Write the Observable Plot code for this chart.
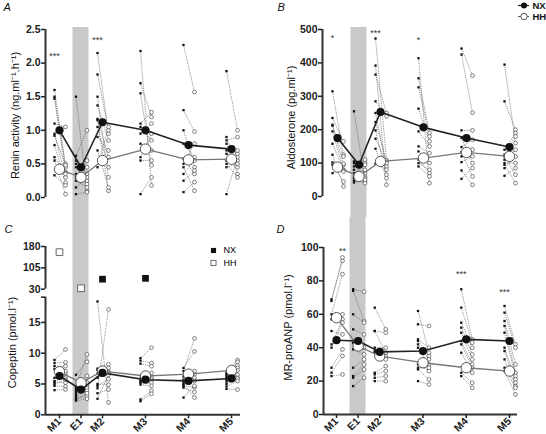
<!DOCTYPE html>
<html><head><meta charset="utf-8">
<script src="https://cdn.jsdelivr.net/npm/d3@7"></script>
<script src="https://cdn.jsdelivr.net/npm/@observablehq/plot@0.6"></script>
<style>
body{margin:0;background:#fff;}
#wrap{position:relative;width:546px;height:434px;overflow:hidden;background:#fff;}
</style></head><body><div id="wrap"></div>
<script>
// ---------- data ----------
const categories = ["M1","E1","M2","M3","M4","M5"];
const catPos = [0, 0.5, 1, 2, 3, 4];

// A: Renin activity (ng.ml-1.h-1)
const reninNX = [
  [1.60,1.50,1.47,1.10,0.95,0.92,0.78,0.60,0.55,0.33],
  [1.50,0.62,0.55,0.50,0.45,0.35,0.30,0.25,0.15,0.05],
  [2.15,1.83,1.50,1.37,1.17,1.15,1.05,0.90,0.70,0.45],
  [2.18,1.70,1.55,1.10,1.05,0.95,0.80,0.60,0.55,0.05],
  [2.27,1.30,1.00,0.80,0.58,0.50,0.45,0.35,0.25,0.08],
  [1.88,0.90,0.85,0.80,0.70,0.65,0.55,0.50,0.45,0.05]];
const reninHH = [
  [0.45,0.50,0.38,1.05,0.30,0.48,0.22,0.35,0.05,0.18],
  [0.10,1.00,0.35,0.45,0.25,0.20,0.55,0.15,0.30,0.08],
  [0.95,1.00,0.30,0.85,0.60,0.10,0.45,0.70,0.15,1.05],
  [0.18,1.20,0.48,1.27,0.85,1.10,0.70,0.95,0.55,0.30],
  [1.57,0.98,0.45,0.60,0.35,0.80,0.10,0.55,0.40,0.23],
  [1.00,0.45,0.90,0.35,0.65,0.55,0.70,0.30,0.50,0.60]];
const reninMeanNX = [1.00,0.45,1.12,1.00,0.78,0.72];
const reninMeanHH = [0.42,0.30,0.55,0.72,0.56,0.57];
const reninTicks = [0,0.5,1,1.5,2,2.5];
const reninSig = [["M1",2.14,"***"],["M2",2.37,"***"]];

// B: Aldosterone (pg.ml-1)
const aldoNX = [
  [315,235,215,212,195,158,125,102,95,70],
  [255,105,100,90,80,70,60,55,48,42],
  [473,392,365,285,250,223,198,173,143,98],
  [414,354,327,263,195,150,135,110,100,90],
  [443,425,198,175,148,133,120,103,78,53],
  [395,285,140,125,120,110,100,95,85,62]];
const aldoHH = [
  [125,165,95,120,80,78,30,75,45,98],
  [45,110,60,100,55,95,70,40,80,50],
  [110,35,250,240,90,105,65,100,55,80],
  [40,190,180,165,150,130,100,70,80,60],
  [362,251,198,100,170,60,140,120,35,85],
  [160,200,190,180,65,140,100,40,120,85]];
const aldoMeanNX = [175,95,253,207,175,148];
const aldoMeanHH = [88,60,105,115,132,120];
const aldoTicks = [0,100,200,300,400,500];
const aldoSig = [["M1",479,"*"],["M2",495,"***"],["M3",474,"*"]];

// C: Copeptin (pmol.l-1)
const copNX = [
  [8.9,8.4,7.9,7.4,6.0,5.5,5.3,5.0,4.7,4.0],
  [6.5,4.5,4.2,3.9,3.6,3.3,3.0,2.7,2.5,2.3],
  [18.4,7.5,7.3,6.7,6.0,5.0,4.7,4.3,3.5,2.6],
  [9.2,8.8,8.3,5.9,5.6,5.4,5.2,4.9,2.5,2.2],
  [7.6,7.1,6.2,5.7,5.4,5.1,4.9,4.7,4.4,2.8],
  [6.9,6.6,6.3,6.0,5.9,5.7,5.4,5.0,4.6,4.2]];
const copHH = [
  [10.6,8.5,7.9,6.7,7.1,6.0,5.2,5.7,4.6,4.1],
  [8.6,9.8,5.2,6.3,4.7,4.3,3.9,3.0,3.5,2.6],
  [2.0,8.2,7.6,7.0,6.8,4.9,5.8,17.1,4.1,6.5],
  [10.9,8.4,7.9,6.8,6.0,5.7,5.2,4.7,3.9,3.4],
  [10.3,12.4,7.1,6.6,6.0,5.5,2.8,4.5,3.7,4.7],
  [8.9,8.6,8.0,7.6,7.2,6.5,6.0,5.9,5.5,4.1]];
const copMeanNX = [6.3,4.1,6.8,5.7,5.5,5.9];
const copMeanHH = [7.0,5.2,7.1,6.3,6.6,7.2];
const copOutNX = [["M2",65],["M3",68]];
const copOutHH = [["M1",160],["E1",33]];
const copTicksLow = [0,5,10,15];
const copTicksHigh = [30,105,180];
const copLowTop = 19.1;   // top of the lower axis segment

// D: MR-proANP (pmol.l-1)
const anpNX = [
  [69,68,60,57,50,42,40,28,25,23],
  [75,74,60,51,43,39,28,23,22,17],
  [64,50,50,40,38,37,25,24,22,20],
  [62,54,45,44,42,40,30,28,27,20],
  [75,64,55,52,49,44,42,37,25,23],
  [65,61,56,53,49,40,38,33,28,26]];
const anpHH = [
  [92,94,84,60,48,57,55,39,35,24],
  [73.5,56,55,48,40,36,33,30,27,22],
  [51,49,37,40,35,33,29,26,23,20],
  [37,53,40,35,33,30,26,28,21,18],
  [45,43,40,36,33,30,28,25,19,16],
  [42,40,30,25,23,21,19,17,16,12]];
const anpMeanNX = [44.5,44,37.5,38,45,44];
const anpMeanHH = [58,41,35,31,28,26];
const anpTicks = [0,20,40,60,80,100];
const anpSig = [["M1",98.8,"**"],["M4",85,"***"],["M5",74.5,"***"]];

// ---------- drawing ----------
const FONT = "'Liberation Sans', Arial, Helvetica, sans-serif";
// broken-axis transform for copeptin
const upBase = 20.4, upK = (27.32 - 20.4) / 150;
const copT = v => v <= copLowTop ? v : upBase + (v - 30) * upK;

function makePanel(c) {
  const T = c.T || (v => v);
  const ix = px => (px - c.m1) / (c.m5 - c.m1) * 4;
  const iy = py => c.dom[0] + (py - c.yB) / (c.yT - c.yB) * (c.dom[1] - c.dom[0]);
  const offL = ix(c.m1 - 5), offR = ix(c.m1 + 6);
  const rows = [];
  categories.forEach((cat, i) => c.nx[i].forEach((v, j) => rows.push({pos: catPos[i], nx: v, hh: c.hh[i][j]})));
  const means = categories.map((cat, i) => ({pos: catPos[i], nx: c.meanNX[i], hh: c.meanHH[i]}));
  const pos = name => catPos[categories.indexOf(name)];
  const marks = [];
  // shaded exercise band around E1
  marks.push(Plot.rect([0], {x1: () => ix(c.m1 + 13.5), x2: () => ix(c.m1 + 29.5),
    y1: () => c.bandY1, y2: () => c.bandY2, fill: "#c9c9c9"}));
  // individual paired lines
  marks.push(Plot.link(rows, {x1: d => d.pos + offL, y1: d => T(d.nx), x2: d => d.pos + offR, y2: d => T(d.hh),
    stroke: "#555", strokeWidth: 0.6, strokeDasharray: "1.3,1"}));
  marks.push(Plot.dot(rows, {x: d => d.pos + offL, y: d => T(d.nx), symbol: "square", r: 1.3, fill: "#111"}));
  marks.push(Plot.dot(rows, {x: d => d.pos + offR, y: d => T(d.hh), r: 1.9, fill: "white", stroke: "#333", strokeWidth: 0.6}));
  // group means
  marks.push(Plot.line(means, {x: "pos", y: d => T(d.hh), stroke: "#777", strokeWidth: 1.3}));
  marks.push(Plot.line(means, {x: "pos", y: d => T(d.nx), stroke: "#222", strokeWidth: 1.6}));
  marks.push(Plot.dot(means, {x: "pos", y: d => T(d.hh), r: 5.2, fill: "white", stroke: "#555", strokeWidth: 1}));
  marks.push(Plot.dot(means, {x: "pos", y: d => T(d.nx), r: 4.1, fill: "#111"}));
  // significance marks, above the column holding the highest value
  if (c.sig) {
    marks.push(Plot.text(c.sig, {
      x: d => { const i = categories.indexOf(d[0]); return catPos[i] + (d3.max(c.hh[i]) > d3.max(c.nx[i]) ? offR : offL); },
      y: d => T(d[1]), text: d => d[2], fontSize: 9, fill: "#333", dy: 2}));
  }
  // outliers (copeptin)
  if (c.outNX) {
    marks.push(Plot.dot(c.outNX, {x: d => pos(d[0]), y: d => T(d[1]), symbol: "square", r: 3.8, fill: "#111"}));
    marks.push(Plot.dot(c.outHH, {x: d => pos(d[0]), y: d => T(d[1]), symbol: "square", r: 3.8, fill: "white", stroke: "#666", strokeWidth: 1}));
  }
  // y axis
  c.axisSegs.forEach(s => marks.push(Plot.ruleX([0], {x: () => ix(c.axisPx), y1: () => s[0], y2: () => s[1], stroke: "#333", strokeWidth: 2})));
  c.yAxes.forEach(a => marks.push(Plot.axisY({ticks: a.ticks, tickFormat: a.format, tickSize: 4, tickPadding: 1,
    fontSize: 10.5, fontWeight: "bold", strokeWidth: 1.5, color: "#222", label: null})));
  // x axis
  if (c.xEnd) {
    marks.push(Plot.ruleY([0], {y: () => T(0), x1: () => ix(c.axisPx), x2: () => ix(c.xEnd), stroke: "#333", strokeWidth: 2}));
    marks.push(Plot.axisX({ticks: catPos, tickFormat: d => categories[catPos.indexOf(d)], tickRotate: -45,
      tickSize: 4, tickPadding: 1, fontSize: 10.5, fontWeight: "bold", strokeWidth: 1.5, color: "#222", label: null}));
  }
  // y title and panel letter
  marks.push(Plot.text([c.title], {x: () => ix(c.titleX), y: () => iy(c.titleY), rotate: -90, fontSize: 11, fill: "#111"}));
  marks.push(Plot.text([c.letter], {x: () => ix(c.letterX), y: () => iy(c.letterY), fontSize: 11, fontStyle: "italic", textAnchor: "start", fill: "#111"}));
  if (c.legend) marks.push(...c.legend(ix, iy));
  return Plot.plot({
    width: 273, height: 217,
    marginLeft: c.axisPx, marginRight: 273 - c.xRight, marginTop: c.yT, marginBottom: 217 - c.yB,
    x: {domain: [0, 4], range: [c.m1, c.m5], axis: null},
    y: {domain: c.dom, range: [c.yB, c.yT], axis: null},
    style: {fontFamily: FONT, background: "transparent", overflow: "hidden"},
    marks
  });
}

const panels = [
  {letter: "A", left: 0, top: 0, axisPx: 45, m1: 59, m5: 231, xRight: 245, yB: 197, yT: 29, dom: [0, 2.5],
   nx: reninNX, hh: reninHH, meanNX: reninMeanNX, meanHH: reninMeanHH, sig: reninSig,
   bandY1: -0.6, bandY2: (197 - 27) / 67.2,
   axisSegs: [[0, 2.5]], yAxes: [{ticks: reninTicks, format: d3.format(".1f")}],
   title: "Renin activity (ng.ml\u207B\u00B9.h\u207B\u00B9)", titleX: 15, titleY: 115, letterX: 3, letterY: 7},
  {letter: "B", left: 273, top: 0, axisPx: 49, m1: 64, m5: 236, xRight: 250, yB: 196, yT: 29, dom: [0, 500],
   nx: aldoNX, hh: aldoHH, meanNX: aldoMeanNX, meanHH: aldoMeanHH, sig: aldoSig,
   bandY1: -100, bandY2: (196 - 27) * 500 / 167,
   axisSegs: [[0, 500]], yAxes: [{ticks: aldoTicks, format: d => String(d)}],
   title: "Aldosterone (pg.ml\u207B\u00B9)", titleX: 18, titleY: 117, letterX: 4, letterY: 7,
   legend: (ix, iy) => [
     Plot.ruleY([0], {y: () => iy(5), x1: () => ix(245), x2: () => ix(256), stroke: "#222", strokeWidth: 1.3}),
     Plot.dot([0], {x: () => ix(250.5), y: () => iy(5), r: 3, fill: "#111"}),
     Plot.text(["NX"], {x: () => ix(259), y: () => iy(5.5), textAnchor: "start", fontWeight: "bold", fontSize: 9.5, fill: "#111"}),
     Plot.ruleY([0], {y: () => iy(16), x1: () => ix(245), x2: () => ix(256), stroke: "#555", strokeWidth: 1}),
     Plot.dot([0], {x: () => ix(250.5), y: () => iy(16), r: 3.2, fill: "white", stroke: "#555", strokeWidth: 1}),
     Plot.text(["HH"], {x: () => ix(259), y: () => iy(16.5), textAnchor: "start", fontWeight: "bold", fontSize: 9.5, fill: "#111"})
   ]},
  {letter: "C", left: 0, top: 217, axisPx: 45, m1: 59, m5: 231, xRight: 241, xEnd: 240, yB: 197.3, yT: 29, dom: [0, 27.32],
   T: copT, nx: copNX, hh: copHH, meanNX: copMeanNX, meanHH: copMeanHH, outNX: copOutNX, outHH: copOutHH,
   bandY1: 0, bandY2: 40,
   axisSegs: [[0, copLowTop], [upBase, copT(180)]],
   yAxes: [{ticks: [...copTicksLow, copLowTop], format: d => d === copLowTop ? "" : String(d)},
           {ticks: copTicksHigh.map(copT), format: d => String(Math.round(30 + (d - upBase) / upK))}],
   title: "Copeptin (pmol.l\u207B\u00B9)", titleX: 12, titleY: 125, letterX: 4, letterY: 12,
   legend: (ix, iy) => [
     Plot.dot([0], {x: () => ix(213), y: () => iy(33), symbol: "square", r: 2.9, fill: "#111"}),
     Plot.text(["NX"], {x: () => ix(223), y: () => iy(33), textAnchor: "start", fontSize: 9, fill: "#000"}),
     Plot.dot([0], {x: () => ix(213), y: () => iy(45.5), symbol: "square", r: 2.9, fill: "white", stroke: "#666", strokeWidth: 1}),
     Plot.text(["HH"], {x: () => ix(223), y: () => iy(45.5), textAnchor: "start", fontSize: 9, fill: "#000"})
   ]},
  {letter: "D", left: 273, top: 217, axisPx: 50, m1: 63, m5: 236, xRight: 245, xEnd: 244, yB: 197, yT: 30, dom: [0, 100],
   nx: anpNX, hh: anpHH, meanNX: anpMeanNX, meanHH: anpMeanHH, sig: anpSig,
   bandY1: 0, bandY2: 140,
   axisSegs: [[0, 100]], yAxes: [{ticks: anpTicks, format: d => String(d)}],
   title: "MR-proANP (pmol.l\u207B\u00B9)", titleX: 15, titleY: 110, letterX: 3, letterY: 12}
];

const wrap = document.getElementById("wrap");
panels.forEach(p => {
  const svg = makePanel(p);
  svg.style.position = "absolute";
  svg.style.left = p.left + "px";
  svg.style.top = p.top + "px";
  wrap.appendChild(svg);
});
</script>
</body></html>
